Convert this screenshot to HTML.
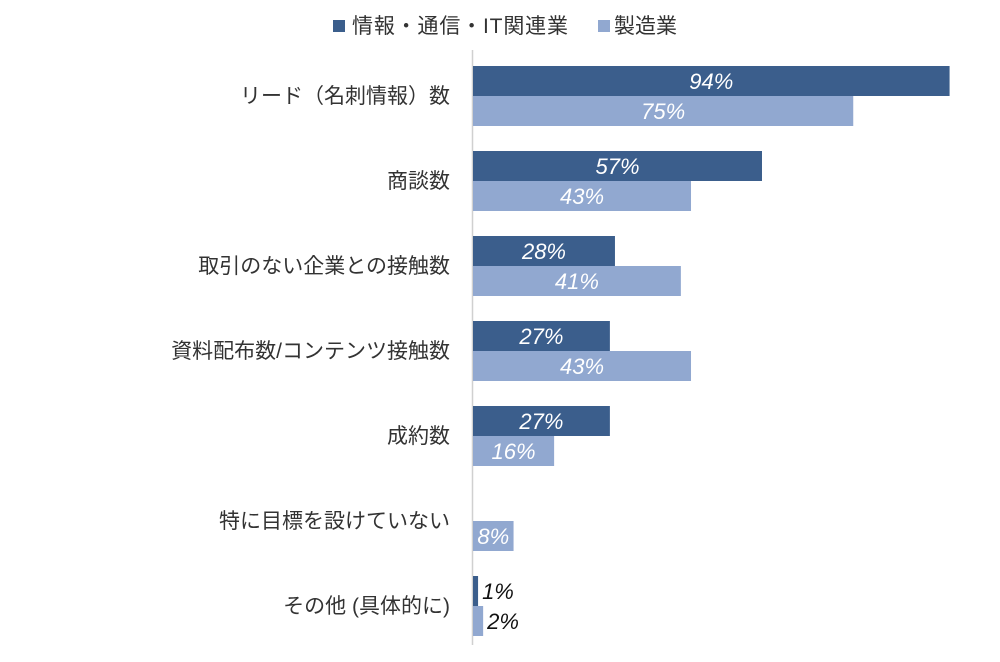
<!DOCTYPE html>
<html><head><meta charset="utf-8"><style>
body{margin:0;background:#fff;}
svg text{font-family:"Liberation Sans","Noto Sans CJK JP",sans-serif;}
</style></head><body>
<svg id="c" width="1000" height="657">
<g>
<rect x="333" y="20" width="12" height="12" fill="#3b5e8c"/>
<text x="352" y="33" font-size="21" fill="#333" textLength="216">情報・通信・IT関連業</text>
<rect x="598" y="20" width="12" height="12" fill="#91a8d0"/>
<text x="614" y="33" font-size="21" fill="#333">製造業</text>
</g>
<line x1="472.5" y1="50" x2="472.5" y2="645" stroke="#d0d0d0" stroke-width="1.5"/>
<g id="bars"></g>
</svg>
<script>
const categories=["リード（名刺情報）数","商談数","取引のない企業との接触数","資料配布数/コンテンツ接触数","成約数","特に目標を設けていない","その他 (具体的に)"];
const itValues=[94,57,28,27,27,0,1];
const mfgValues=[75,43,41,43,16,8,2];
const x0=473, pxPer=5.07, top0=66, groupStep=85, barH=30;
const xs=v=>x0+v*pxPer;
const g=document.getElementById('bars');
const NS='http://www.w3.org/2000/svg';
function mk(t,a){const e=document.createElementNS(NS,t);for(const k in a)e.setAttribute(k,a[k]);g.appendChild(e);return e;}
categories.forEach((c,i)=>{
  const y=top0+i*groupStep;
  const t=mk('text',{x:450,y:y+37,'font-size':21,fill:'#333','text-anchor':'end'});
  
  
  t.textContent=c;
  [[itValues[i],'#3b5e8c',0,'bar-it'],[mfgValues[i],'#91a8d0',barH,'bar-mfg']].forEach(([v,col,off,nm])=>{
    if(v<=0)return;
    const w=xs(v)-x0;
    const r=mk('rect',{x:x0,y:y+off,width:w,height:barH,fill:col});
    
    
    const inside=w>=30;
    const l=mk('text',{x:inside?x0+w/2:xs(v)+4,y:y+off+23,'font-size':22,'font-style':'italic',fill:inside?'#fff':'#111','text-anchor':inside?'middle':'start'});
    
    
    l.textContent=v+'%';
  });
});
</script>
</body></html>
